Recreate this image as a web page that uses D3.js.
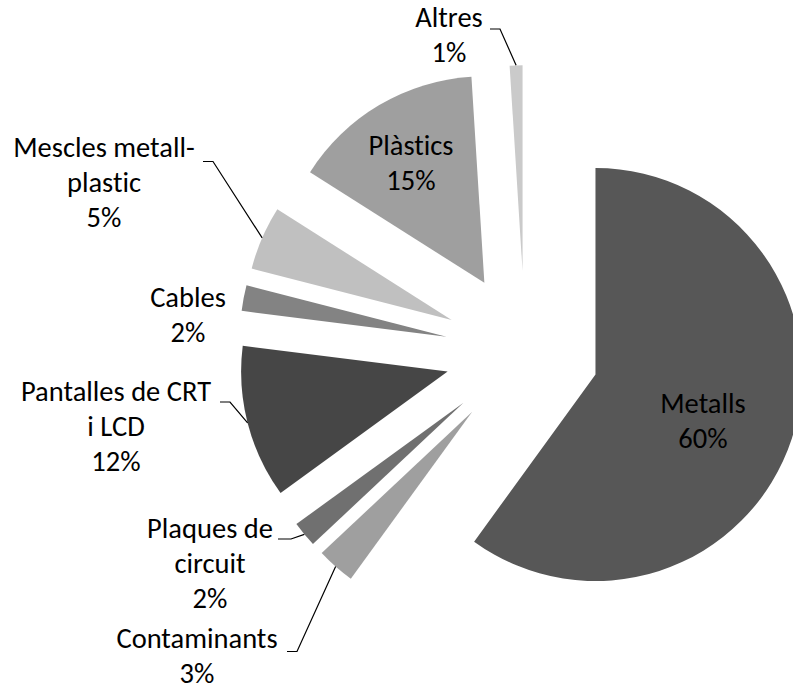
<!DOCTYPE html>
<html>
<head>
<meta charset="utf-8">
<script src="https://cdn.jsdelivr.net/npm/d3@7"></script>
<style>
  html, body { margin: 0; padding: 0; background: #fff; overflow: hidden; }
  svg { display: block; }
  text { font-family: Carlito, Calibri, Lato, "Open Sans", sans-serif; fill: #000; font-variant-ligatures: none; }
</style>
</head>
<body>
<svg id="chart" width="793" height="691"></svg>
<script>
// Composition of waste electrical equipment (%)
const categories = ["Metalls", "Contaminants", "Plaques de circuit", "Pantalles de CRT i LCD",
                    "Cables", "Mescles metall-plastic", "Plàstics", "Altres"];
const values = [60, 3, 2, 12, 2, 5, 15, 1];
// text lines of each label, before the percentage line
const labelLines = [["Metalls"], ["Contaminants"], ["Plaques de", "circuit"], ["Pantalles de CRT", "i LCD"],
                    ["Cables"], ["Mescles metall-", "plastic"], ["Plàstics"], ["Altres"]];
const colors = ["#575757", "#9f9f9f", "#707070", "#464646", "#838383", "#c0c0c0", "#9f9f9f", "#cacaca"];

// layout
const W = 793, H = 691;
const cx = 525.1, cy = 351.7, radius = 206.5;
const explode = i => (i === 0 ? 74 : 80);
const fontSize = 28.5, lineGap = 35;
// label anchor: centre x, first baseline y, leader elbow (label side) or null
const labelLayout = [
  { x: 703, y: 413, leader: null },
  { x: 197, y: 648, leader: [[287, 651.5], [297, 651.5]] },
  { x: 210, y: 538, leader: [[278, 539], [291, 539]] },
  { x: 116, y: 401, leader: [[220, 402], [230, 402]] },
  { x: 188, y: 307, leader: null },
  { x: 104, y: 157, leader: [[203, 161.5], [213, 161.5]] },
  { x: 411, y: 155, leader: null },
  { x: 449, y: 27, leader: [[490, 29], [500, 29]] }
];

const svg = d3.select("#chart");
const pie = d3.pie().sort(null).value(d => d);
const arcs = pie(values);
const arc = d3.arc().innerRadius(0).outerRadius(radius);

const g = svg.append("g").attr("transform", `translate(${cx},${cy})`);

function offset(d, i) {
  const mid = (d.startAngle + d.endAngle) / 2;
  const e = explode(i);
  return [e * Math.sin(mid), -e * Math.cos(mid)];
}

g.selectAll("path.slice")
  .data(arcs)
  .join("path")
  .attr("class", "slice")
  .attr("d", arc)
  .attr("fill", (d, i) => colors[i])
  .attr("transform", (d, i) => { const o = offset(d, i); return `translate(${o[0]},${o[1]})`; });

// leader lines from label to the middle of the slice's outer arc
arcs.forEach((d, i) => {
  const L = labelLayout[i];
  if (!L.leader) return;
  const mid = (d.startAngle + d.endAngle) / 2;
  const o = offset(d, i);
  const px = cx + o[0] + radius * Math.sin(mid);
  const py = cy + o[1] - radius * Math.cos(mid);
  const pts = L.leader.concat([[px, py]]);
  svg.append("path")
    .attr("d", d3.line()(pts))
    .attr("fill", "none")
    .attr("stroke", "#000")
    .attr("stroke-width", 1.2);
});

// labels
arcs.forEach((d, i) => {
  const L = labelLayout[i];
  const lines = labelLines[i].concat([values[i] + "%"]);
  const t = svg.append("text")
    .attr("text-anchor", "middle")
    .attr("font-size", fontSize);
  lines.forEach((s, k) => {
    t.append("tspan").attr("x", L.x).attr("y", L.y + k * lineGap).text(s);
  });
});
</script>
</body>
</html>
